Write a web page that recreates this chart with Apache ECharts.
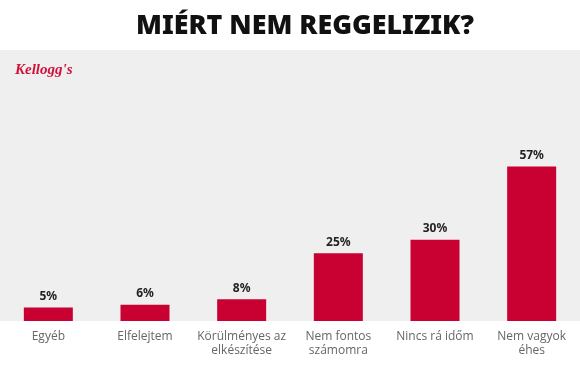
<!DOCTYPE html>
<html>
<head>
<meta charset="utf-8">
<style>
html,body{margin:0;padding:0;background:#fff;}
#chart{width:580px;height:373px;}
</style>
<script src="https://cdn.jsdelivr.net/npm/echarts@6/dist/echarts.min.js"></script>
</head>
<body>
<div id="chart"></div>
<script>
const titleText = 'MIÉRT NEM REGGELIZIK?';
const categories = ['Egyéb', 'Elfelejtem', 'Körülményes az\nelkészítése', 'Nem fontos\nszámomra', 'Nincs rá időm', 'Nem vagyok\néhes'];
const values = [5, 6, 8, 25, 30, 57];

const chart = echarts.init(document.getElementById('chart'), null, {renderer: 'canvas'});
chart.setOption({
  backgroundColor: '#ffffff',
  animation: false,
  title: {
    text: titleText,
    left: 300, top: 8, textAlign: 'center',
    textStyle: {fontFamily: 'Noto Sans', fontWeight: 900, fontSize: 26.8, color: '#111'}
  },
  graphic: [
    {type: 'rect', left: 0, top: 50, shape: {width: 580, height: 271}, style: {fill: '#efefef'}, z: -10},
    {type: 'text', left: 15, top: 63, style: {text: 'Kellogg\'s', font: 'italic bold 15px "Liberation Serif"', fill: '#d0103a'}}
  ],
  grid: {left: 0, right: 0, top: 50, bottom: 52},
  xAxis: {
    type: 'category', data: categories,
    axisLine: {show: false}, axisTick: {show: false},
    axisLabel: {color: '#666', fontFamily: 'Open Sans', fontSize: 12, margin: 9, lineHeight: 14, interval: 0}
  },
  yAxis: {
    type: 'value', min: 0, max: 100,
    show: false, splitLine: {show: false}
  },
  series: [{
    type: 'bar', data: values, barWidth: 49,
    itemStyle: {color: '#c90032'},
    label: {show: true, position: 'top', distance: 5, formatter: '{c}%',
      color: '#222', fontFamily: 'Noto Sans', fontWeight: 'bold', fontSize: 12}
  }]
});
</script>
</body>
</html>
